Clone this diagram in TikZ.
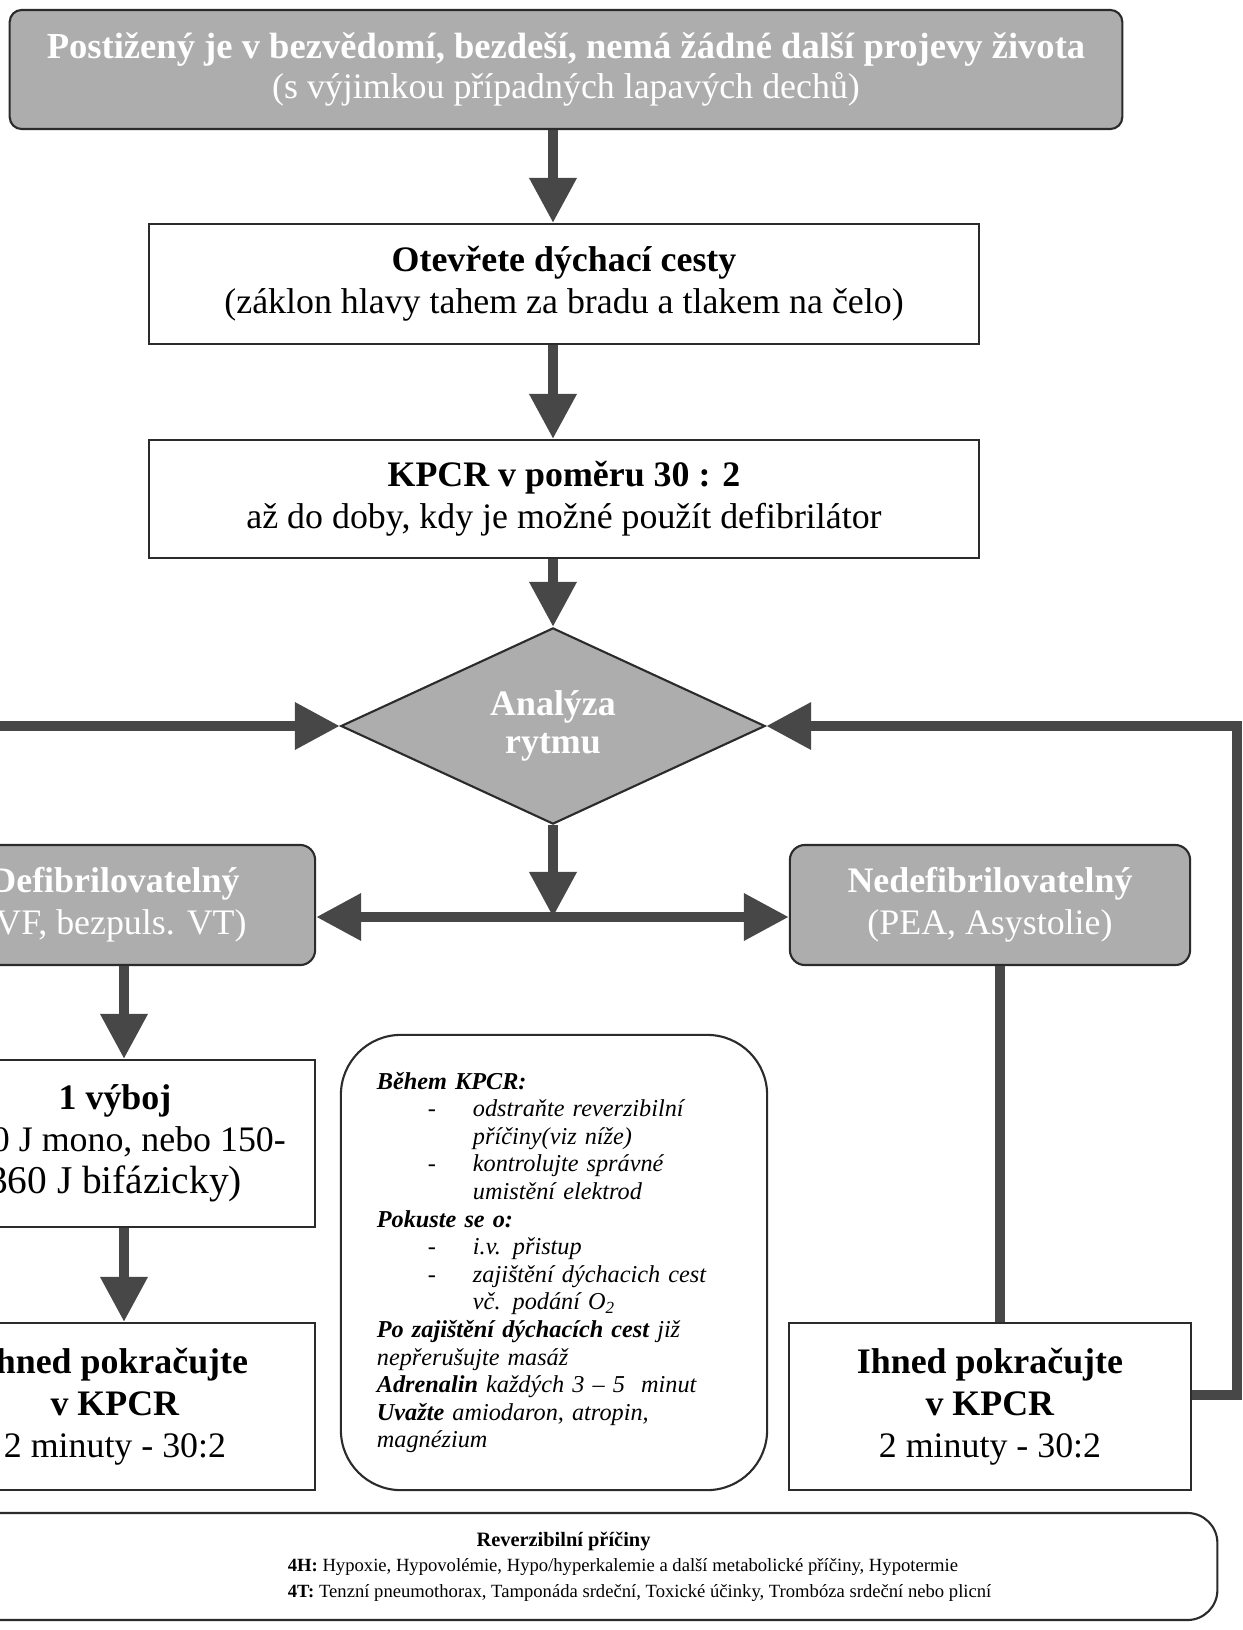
\documentclass[tikz,border=0pt]{standalone}
\usepackage{fontspec}
\setmainfont{Liberation Serif}
\usepackage{tikz}
\usetikzlibrary{arrows.meta,shapes.geometric}
\definecolor{cprGray}{HTML}{ADADAD}
\definecolor{cprDark}{HTML}{474747}
\definecolor{cprLine}{HTML}{2B2B2B}
\newcommand{\cprItem}{\makebox[0.96cm][l]{\hspace{0.51cm}-}}
\newcommand{\cprIndent}{\hspace*{0.96cm}}

\begin{document}
\begin{tikzpicture}[x=0.01cm,y=-0.01cm,
  >={Triangle[width=0.45cm,length=0.45cm]},
  cprbox/.style={draw=cprLine, line width=0.6pt, fill=white, inner sep=0pt, align=center, font=\fontsize{10.2}{12}\selectfont},
  cprgray/.style={cprbox, fill=cprGray, text=white, rounded corners=0.15cm},
  flow/.style={draw=cprDark, line width=0.1cm, ->}]
  \useasboundingbox (0,0) rectangle (1243,1630);
  \clip (0,0) rectangle (1243,1630);

  \node[cprgray, rounded corners=0.12cm, minimum width=11.12cm, minimum height=1.19cm, font=\fontsize{10.2}{11.4}\selectfont] (victim) at (566,69.5) {{\bfseries\fontsize{10.4}{11.4}\selectfont Postižený je v bezvědomí, bezdeší, nemá žádné další projevy života}\\(s výjimkou případných lapavých dechů)};
  \node[cprbox, minimum width=8.3cm, minimum height=1.2cm] (airway) at (564,284) {\textbf{Otevřete dýchací cesty}\\(záklon hlavy tahem za bradu a tlakem na čelo)};
  \node[cprbox, minimum width=8.3cm, minimum height=1.18cm] (cpr) at (564,499) {\textbf{KPCR v poměru 30 : 2}\\až do doby, kdy je možné použít defibrilátor};
  \node[diamond, draw=cprLine, line width=0.6pt, fill=cprGray, text=white, inner sep=0pt, minimum width=4.24cm, minimum height=1.86cm, align=center, font=\bfseries\fontsize{10.2}{10.8}\selectfont] (rhythm) at (553,726) {Analýza\\rytmu};

  \node[cprgray, minimum width=4cm, minimum height=1.2cm] (shockable) at (115,905) {\textbf{Defibrilovatelný}\\(VF, bezpuls. VT)};
  \node[cprgray, minimum width=4cm, minimum height=1.2cm] (nonshockable) at (990,905) {\textbf{Nedefibrilovatelný}\\(PEA, Asystolie)};

  \node[cprbox, minimum width=4cm, minimum height=1.67cm] (shock) at (115,1143.5) {\textbf{1 výboj}\\(360 J mono, nebo 150-\\{\fontsize{11.2}{12}\selectfont 360 J bifázicky)}};
  \node[cprbox, minimum width=4cm, minimum height=1.67cm] (resumeL) at (115,1406.5) {\textbf{Ihned pokračujte}\\\textbf{v KPCR}\\2 minuty - 30:2};
  \node[cprbox, minimum width=4.02cm, minimum height=1.67cm] (resumeR) at (990,1406.5) {\textbf{Ihned pokračujte}\\\textbf{v KPCR}\\2 minuty - 30:2};

  \node[cprbox, rounded corners=0.6cm, minimum width=4.26cm, minimum height=4.55cm, align=left, text width=3.54cm, font=\itshape\fontsize{6.9}{7.85}\selectfont] (during) at (554,1262.5) {\textbf{Během KPCR:}\\
    \cprItem odstraňte reverzibilní\\
    \cprIndent příčiny(viz níže)\\
    \cprItem kontrolujte správné\\
    \cprIndent umistění elektrod\\
    \textbf{Pokuste se o:}\\
    \cprItem i.v. přistup\\
    \cprItem zajištění dýchacich cest\\
    \cprIndent vč. podání O\textsubscript{2}\\
    \textbf{Po zajištění dýchacích cest} již\\
    nepřerušujte masáž\\
    \textbf{Adrenalin} každých 3 – 5~ minut\\
    \textbf{Uvažte} amiodaron, atropin,\\
    magnézium};

  \node[cprbox, rounded corners=0.3cm, minimum width=13.07cm, minimum height=1.07cm, font=\fontsize{5.3}{7.3}\selectfont] (causes) at (563.5,1566.5) {{\bfseries\fontsize{5.8}{7.3}\selectfont Reverzibilní příčiny}\\
    \makebox[5.51cm][l]{\textbf{4H:} Hypoxie, Hypovolémie, Hypo/hyperkalemie a další metabolické příčiny, Hypotermie}\\
    \makebox[5.51cm][l]{\textbf{4T:} Tenzní pneumothorax, Tamponáda srdeční, Toxické účinky, Trombóza srdeční nebo plicní}};

  \coordinate (mid) at (553,917);
  \coordinate (lcol) at (124,0);
  \coordinate (rcol) at (1000,0);
  \coordinate (loop) at (1237,1395);
  \coordinate (fromleft) at (-100,726);

  \draw[flow] (victim.south -| rhythm) -- (airway.north -| rhythm);
  \draw[flow] (airway.south -| rhythm) -- (cpr.north -| rhythm);
  \draw[flow] (cpr.south -| rhythm) -- (rhythm.north);
  \draw[flow] (rhythm.south) -- (mid);
  \draw[flow, <->] (shockable.east |- mid) -- (nonshockable.west |- mid);
  \draw[flow] (fromleft) -- (rhythm.west);
  \draw[flow] (resumeR.east |- loop) -- (loop) -- (loop |- rhythm.east) -- (rhythm.east);
  \draw[flow] (shockable.south -| lcol) -- (shock.north -| lcol);
  \draw[flow] (shock.south -| lcol) -- (resumeL.north -| lcol);
  \draw[flow, -] (nonshockable.south -| rcol) -- (resumeR.north -| rcol);
\end{tikzpicture}
\end{document}
